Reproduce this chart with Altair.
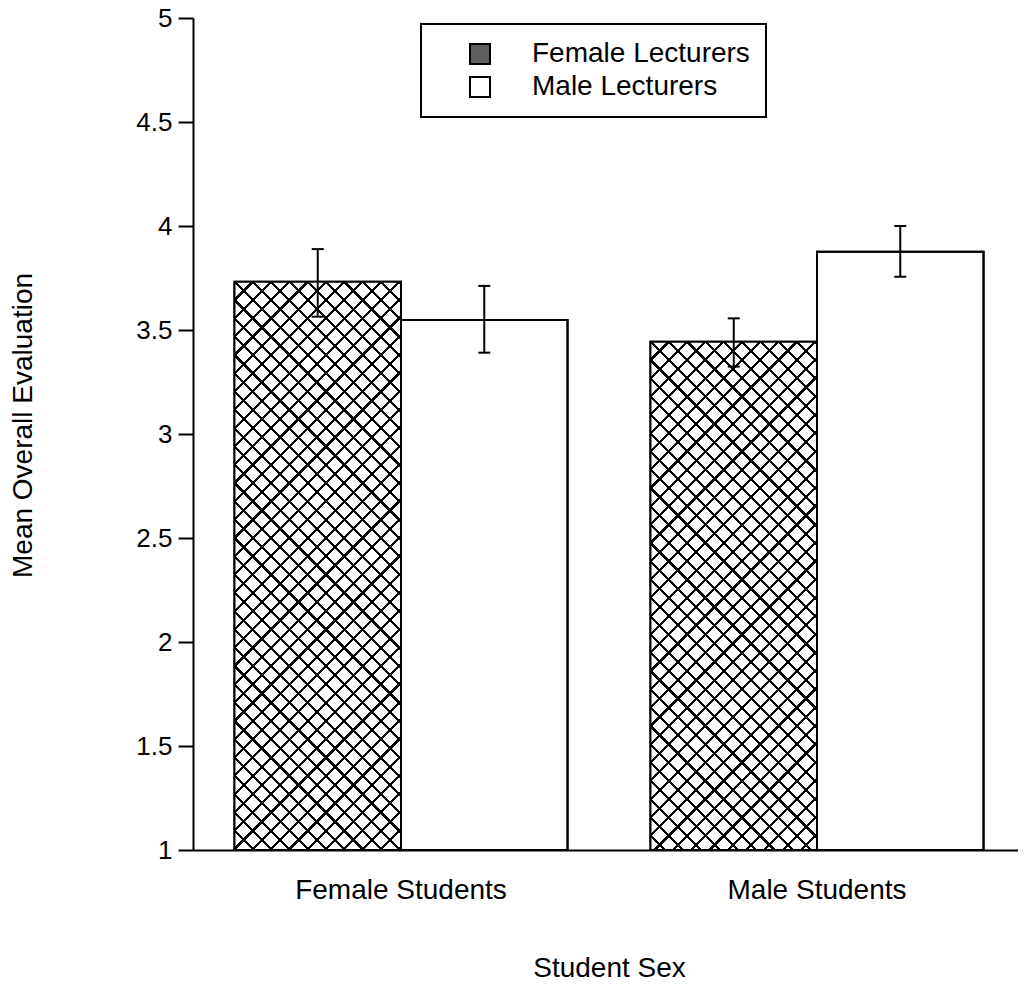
import altair as alt
import pandas as pd

# ---- data ----
students = ["Female Students", "Female Students", "Male Students", "Male Students"]
lecturers = ["Female Lecturers", "Male Lecturers", "Female Lecturers", "Male Lecturers"]
means = [3.732, 3.548, 3.444, 3.876]
lower = [3.564, 3.391, 3.324, 3.756]
upper = [3.889, 3.712, 3.556, 4.0]

student_order = ["Female Students", "Male Students"]
lecturer_order = ["Female Lecturers", "Male Lecturers"]
y_ticks = [1, 1.5, 2, 2.5, 3, 3.5, 4, 4.5, 5]

df = pd.DataFrame({
    "student": students,
    "lecturer": lecturers,
    "mean": means,
    "lower": lower,
    "upper": upper,
    "base": [1] * len(means),
})

# ---- layout (styling) ----
W, H = 825, 832          # visible plot area
X_RANGE = 832            # band range (axis runs to the page edge)
Y_MIN, Y_MAX = 1, 5
PAD_OUT = 0.249
FONT = "Liberation Sans"
bar_w = (X_RANGE / len(student_order)) / (2 + 2 * PAD_OUT)
px_per_unit = H / (Y_MAX - Y_MIN)


def hatch_gradient(h, backward, gap_color):
    """Diagonal stripe fill (style only) for a bar of pixel height h."""
    w = bar_w
    r = h / w
    denom = w * (1 + r * r)
    period = 18.3
    lw = 3.2
    smax = w + h
    phase = (w % period) if backward else 0.0
    stops = [{"offset": 0, "color": gap_color}]
    last = 0.0
    k = -1
    while True:
        c = phase + k * period
        if c - lw / 2 > smax:
            break
        a = max(0.0, c - lw / 2)
        b = min(smax, c + lw / 2)
        if b > 0 and a < smax:
            ao = max(last, round(a / denom, 6))
            bo = max(ao, round(b / denom, 6))
            stops += [
                {"offset": ao, "color": gap_color},
                {"offset": ao, "color": "black"},
                {"offset": bo, "color": "black"},
                {"offset": bo, "color": gap_color},
            ]
            last = bo
        k += 1
    stops.append({"offset": 1, "color": gap_color})
    if backward:
        return alt.LinearGradient(gradient="linear", stops=stops, x1=1, y1=0, x2=0, y2=r)
    return alt.LinearGradient(gradient="linear", stops=stops, x1=0, y1=0, x2=1, y2=r)


x_enc = alt.X(
    "student:N",
    sort=student_order,
    scale=alt.Scale(domain=student_order, range=[0, X_RANGE], paddingInner=0, paddingOuter=0),
    axis=alt.Axis(
        title="Student Sex",
        labelAngle=0,
        ticks=False,
        labelPadding=48,
        labelBaseline="alphabetic",
        labelLimit=0,
        titleX=416,
        titleY=126,
        titleBaseline="alphabetic",
        titleAlign="center",
    ),
)
xo_enc = alt.XOffset(
    "lecturer:N",
    sort=lecturer_order,
    scale=alt.Scale(domain=lecturer_order, paddingInner=0, paddingOuter=PAD_OUT),
)
y_scale = alt.Scale(domain=[Y_MIN, Y_MAX], zero=False, nice=False)
y_enc = alt.Y(
    "mean:Q",
    scale=y_scale,
    axis=alt.Axis(
        title="Mean Overall Evaluation",
        values=y_ticks,
        format="~g",
        grid=False,
        tickSize=15,
        labelPadding=6,
        titleX=-162,
        titleY=407,
        titleBaseline="alphabetic",
        titleAlign="center",
    ),
)

base = alt.Chart(df).mark_bar(stroke="black", strokeWidth=2).encode(
    x=x_enc,
    xOffset=xo_enc,
    y=y_enc,
    y2="base:Q",
    fill=alt.Fill(
        "lecturer:N",
        sort=lecturer_order,
        scale=alt.Scale(domain=lecturer_order, range=["#5e5e5e", "#ffffff"]),
        legend=alt.Legend(
            orient="none",
            legendX=228,
            legendY=6,
            title=" ",
            titleOrient="left",
            titlePadding=29,
            titleFontSize=28,
            padding=16,
            symbolType="square",
            symbolSize=400,
            symbolStrokeColor="black",
            symbolStrokeWidth=2,
            symbolOpacity=1,
            labelFont=FONT,
            labelFontSize=28,
            labelColor="black",
            labelOffset=38,
            labelLimit=0,
            rowPadding=5,
        ),
    ),
)

layers = [base]
for st, lec, m in zip(students, lecturers, means):
    if lec != "Female Lecturers":
        continue
    h = (m - Y_MIN) * px_per_unit
    for backward, gap in ((False, "#ffffff"), (True, "rgba(255,255,255,0)")):
        layers.append(
            alt.Chart(df)
            .transform_filter((alt.datum.student == st) & (alt.datum.lecturer == lec))
            .mark_bar(fill=hatch_gradient(h, backward, gap), strokeWidth=0)
            .encode(x=x_enc, xOffset=xo_enc, y=y_enc, y2="base:Q")
        )

outline = alt.Chart(df).mark_bar(fillOpacity=0, stroke="black", strokeWidth=2).encode(
    x=x_enc, xOffset=xo_enc, y=y_enc, y2="base:Q"
)
err = alt.Chart(df).mark_rule(color="black", strokeWidth=2).encode(
    x=x_enc, xOffset=xo_enc, y=alt.Y("lower:Q", scale=y_scale), y2="upper:Q"
)
cap_lo = alt.Chart(df).mark_tick(orient="horizontal", size=12, thickness=2, color="black", opacity=1).encode(
    x=x_enc, xOffset=xo_enc, y=alt.Y("lower:Q", scale=y_scale)
)
cap_hi = alt.Chart(df).mark_tick(orient="horizontal", size=12, thickness=2, color="black", opacity=1).encode(
    x=x_enc, xOffset=xo_enc, y=alt.Y("upper:Q", scale=y_scale)
)

layers += [outline, err, cap_lo, cap_hi]

chart = (
    alt.layer(*layers)
    .properties(
        width=W,
        height=H,
        autosize=alt.AutoSizeParams(type="none"),
        padding={"left": 185, "top": 10, "right": 0, "bottom": 132},
        background="white",
    )
    .configure_view(stroke=None)
    .configure_axis(
        domainColor="black",
        domainWidth=2,
        tickColor="black",
        tickWidth=2,
        labelColor="black",
        titleColor="black",
        labelFont=FONT,
        titleFont=FONT,
        labelFontSize=26,
        titleFontSize=28,
        titleFontWeight="normal",
    )
    .configure_axisX(labelFontSize=28)
    .configure_legend(strokeColor="black", strokeWidth=2)
)

chart.save("out.html", embed_options={"renderer": "svg", "actions": False})
